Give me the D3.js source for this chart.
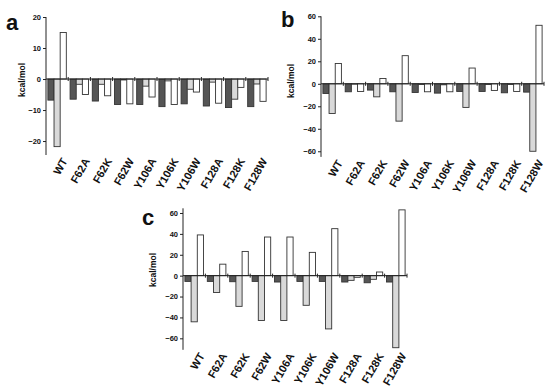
<!DOCTYPE html>
<html><head><meta charset="utf-8">
<script src="https://cdn.jsdelivr.net/npm/d3@7"></script>
<style>body{margin:0;background:#fff}svg{display:block}text{font-family:"Liberation Sans",Arial,sans-serif;font-weight:bold}</style>
</head><body><svg id="c" width="550" height="392"></svg>
<script>
const categories = ["WT","F62A","F62K","F62W","Y106A","Y106K","Y106W","F128A","F128K","F128W"];
// panel a
const aDark  = [-6.8,-6.5,-7.1,-8.2,-8.2,-8.9,-8.0,-8.7,-9.2,-8.9];
const aGray  = [-21.8,-1.7,-1.7,-0.3,-2.3,-0.6,-3.3,-1.0,-6.5,-1.6];
const aWhite = [15,-5,-5.4,-8,-5.8,-8.2,-4.2,-7.8,-2.7,-7.2];
const aTicks = [20,10,0,-10,-20];
// panel b
const bDark  = [-8.6,-7.1,-5.6,-7.1,-7.7,-8.3,-6.8,-6.8,-8.0,-7.4];
const bGray  = [-26.4,-0.3,-11.6,-33.2,-0.6,-0.9,-21,-0.6,-0.6,-60];
const bWhite = [18,-6.8,4.7,25,-7.1,-7.1,14,-5.9,-6.8,52];
const bTicks = [60,40,20,0,-20,-40,-60];
// panel c
const cDark  = [-5.5,-5.5,-5.8,-5.5,-6.1,-5.5,-5.5,-6.1,-6.8,-6.1];
const cGray  = [-44.2,-16.1,-29.4,-42.9,-42.9,-28.4,-51,-4.5,-3.5,-69];
const cWhite = [39,11,23.2,37,37,22.3,45,-1.6,3.5,63];
const cTicks = [60,40,20,0,-20,-40,-60];

const fills = ["#555555","#d9d9d9","#ffffff"];
const svg = d3.select("#c");

function panel(o){
  const g = svg.append("g");
  const y = d3.scaleLinear().domain(o.domain).range(o.yRange);
  const x = d3.scaleBand().domain(categories).range(o.xRange).paddingInner(0.17).paddingOuter(0.085);
  const xs = d3.scaleBand().domain([0,1,2]).range([0,x.bandwidth()]);
  const series = [o.dark,o.gray,o.white];
  series.forEach((vals,si)=>{
    g.selectAll(null).data(vals).enter().append("rect")
      .attr("x",(d,i)=>x(categories[i])+xs(si))
      .attr("width",xs.bandwidth())
      .attr("y",d=>Math.min(y(d),y(0)))
      .attr("height",d=>Math.abs(y(d)-y(0)))
      .attr("fill",fills[si]).attr("stroke","#333").attr("stroke-width",0.9);
  });
  const ya = d3.axisLeft(y).tickValues(o.ticks).tickSize(3).tickPadding(2).tickFormat(d3.format("d"));
  const yg = g.append("g").attr("transform",`translate(${o.xRange[0]},0)`).call(ya);
  yg.select(".domain").attr("d",`M0,${o.yRange[0]}V${o.yRange[1]}`).attr("stroke","#222");
  yg.selectAll(".tick line").attr("stroke","#222");
  yg.selectAll("text").style("font-size","7.5px").attr("fill","#111");
  const step = x.step();
  const bounds = d3.range(categories.length+1).map(i=>o.xRange[0]+i*step);
  g.append("line").attr("x1",o.xRange[0]).attr("x2",o.xRange[1]).attr("y1",y(0)).attr("y2",y(0)).attr("stroke","#222").attr("stroke-width",1);
  g.selectAll(null).data(bounds.slice(1)).enter().append("line")
    .attr("x1",d=>d).attr("x2",d=>d).attr("y1",y(0)-2).attr("y2",y(0)+2).attr("stroke","#222");
  g.selectAll(null).data(categories).enter().append("text")
    .attr("transform",d=>`translate(${x(d)+x.bandwidth()/2+4},${o.yRange[0]+2}) rotate(-60)`)
    .attr("text-anchor","end").attr("dy","0.72em").style("font-size","11px").attr("fill","#111").text(d=>d);
  g.append("text").attr("transform",`translate(${o.ylabX},${o.ylabY}) rotate(-90)`)
    .attr("text-anchor","middle").style("font-size","8.5px").attr("fill","#111").text("kcal/mol");
  g.append("text").attr("x",o.letX).attr("y",o.letY).style("font-size","22px").attr("fill","#111").text(o.letter);
}

panel({dark:aDark,gray:aGray,white:aWhite,ticks:aTicks,domain:[-24.5,20],yRange:[155,17],xRange:[46,268],ylabX:25,ylabY:80,letX:6,letY:30,letter:"a"});
panel({dark:bDark,gray:bGray,white:bWhite,ticks:bTicks,domain:[-65,60],yRange:[156.9,16.3],xRange:[321,544],ylabX:294,ylabY:81,letX:281,letY:27,letter:"b"});
panel({dark:cDark,gray:cGray,white:cWhite,ticks:cTicks,domain:[-71,64.5],yRange:[349.8,208.3],xRange:[183,407],ylabX:156,ylabY:270,letX:142,letY:225,letter:"c"});
</script></body></html>
